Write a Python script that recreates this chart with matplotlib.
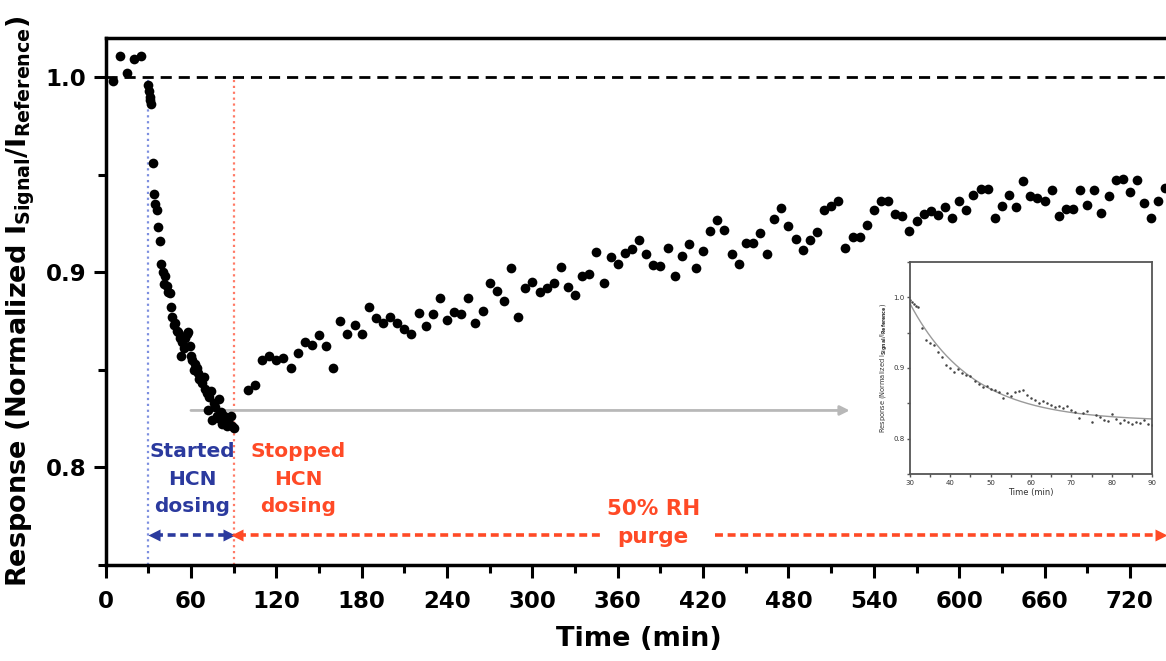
import numpy as np
import matplotlib
matplotlib.use("Agg")
import matplotlib.pyplot as plt
from matplotlib.ticker import MultipleLocator, FormatStrFormatter

plt.rcParams["font.family"] = ["DejaVu Sans"]
plt.rcParams["mathtext.fontset"] = "dejavusans"
plt.rcParams["mathtext.default"] = "bf"

# Baseline before HCN exposure (min, normalized response)
baseline_t = [5, 10, 15, 20, 25]
baseline_v = [0.998, 1.011, 1.002, 1.009, 1.011]

# HCN dosing period (30-90 min)
dosing_t = [30, 30.5, 31, 31.5, 32, 33, 34, 35, 36, 37, 38, 39, 40, 41, 42, 43, 44,
            45, 46, 47, 48, 49, 50, 51, 52, 53, 54, 55, 56, 57, 58, 59, 60, 61, 62,
            63, 64, 65, 66, 67, 68, 69, 70, 71, 72, 73, 74, 75, 76, 77, 78, 79, 80,
            81, 82, 83, 84, 85, 86, 87, 88, 89, 90]
dosing_v = [0.996, 0.993, 0.990, 0.988, 0.986, 0.956, 0.940, 0.935, 0.932, 0.923,
            0.916, 0.904, 0.900, 0.894, 0.898, 0.893, 0.890, 0.889, 0.882, 0.877,
            0.873, 0.874, 0.870, 0.869, 0.866, 0.857, 0.864, 0.861, 0.866, 0.868,
            0.869, 0.862, 0.857, 0.855, 0.850, 0.853, 0.851, 0.848, 0.845, 0.846,
            0.843, 0.846, 0.840, 0.838, 0.829, 0.836, 0.839, 0.824, 0.833, 0.831,
            0.826, 0.825, 0.835, 0.828, 0.822, 0.826, 0.824, 0.821, 0.823, 0.822,
            0.826, 0.821, 0.820]

# 50% RH purge (recovery)
purge_t = list(range(100, 750, 5))
purge_v = [0.8395, 0.842, 0.855, 0.857, 0.855, 0.8557, 0.8506, 0.8586, 0.8643, 0.8626,
           0.8677, 0.862, 0.8506, 0.8749, 0.868, 0.8728, 0.868, 0.8822, 0.8763, 0.874,
           0.877, 0.8737, 0.871, 0.868, 0.8791, 0.8725, 0.8783, 0.8865, 0.8754, 0.8796,
           0.8785, 0.8865, 0.874, 0.8802, 0.8942, 0.8903, 0.8851, 0.9019, 0.8771, 0.8916,
           0.895, 0.8899, 0.8916, 0.8945, 0.9024, 0.8925, 0.8882, 0.898, 0.8988, 0.9104,
           0.8945, 0.9078, 0.904, 0.9097, 0.9119, 0.9162, 0.9091, 0.9036, 0.9032, 0.9125,
           0.8982, 0.9082, 0.9144, 0.902, 0.9106, 0.9212, 0.9267, 0.9217, 0.9091, 0.904,
           0.9149, 0.9149, 0.9199, 0.9091, 0.9273, 0.9328, 0.9236, 0.9171, 0.9115, 0.9162,
           0.9205, 0.9319, 0.9337, 0.9366, 0.9125, 0.918, 0.918, 0.924, 0.9319, 0.9366,
           0.9366, 0.9297, 0.9288, 0.9212, 0.9264, 0.9297, 0.9314, 0.9291, 0.9334, 0.9277,
           0.9366, 0.9316, 0.9397, 0.9427, 0.9427, 0.9277, 0.9337, 0.9397, 0.9334, 0.9467,
           0.939, 0.9378, 0.9366, 0.9421, 0.9286, 0.9323, 0.9323, 0.9421, 0.9342, 0.9421,
           0.9305, 0.939, 0.947, 0.9476, 0.9408, 0.947, 0.9352, 0.9278, 0.9366, 0.943]

dose_start, dose_stop = 30, 90
x_ticks = list(range(0, 721, 60))
y_ticks = [0.8, 0.9, 1.0]

BLUE = "#2b3a9e"
RED = "#ff4a26"

W, H = 1166, 661
fig = plt.figure(figsize=(W / 100, H / 100), dpi=100)
ax = fig.add_axes([105.6 / W, 1 - 564.5 / H, (1172.6 - 105.6) / W, (564.5 - 38) / H])
ax.set_xlim(0, 750)
ax.set_ylim(0.75, 1.02)

for s in ["left", "bottom", "top"]:
    ax.spines[s].set_linewidth(2.5)
ax.spines["right"].set_visible(False)

ax.set_xticks(x_ticks)
ax.xaxis.set_minor_locator(MultipleLocator(30))
ax.set_yticks(y_ticks)
ax.yaxis.set_minor_locator(MultipleLocator(0.05))
ax.yaxis.set_major_formatter(FormatStrFormatter("%.1f"))
ax.tick_params(which="major", length=9, width=2.2, labelsize=16.5)
ax.tick_params(axis="x", which="major", pad=9)
ax.tick_params(axis="y", which="major", pad=5)
ax.tick_params(which="minor", length=6, width=2.2)
for lbl in ax.get_xticklabels() + ax.get_yticklabels():
    lbl.set_fontweight("bold")

ax.set_xlabel("Time (min)", fontsize=19.5, fontweight="bold", labelpad=10)
ax.set_ylabel(r"Response (Normalized I$_{Signal}$/I$_{Reference}$)",
              fontsize=19.5, fontweight="bold", labelpad=6)

# reference level and dosing markers
ax.axhline(1.0, color="black", lw=2, ls=(0, (4, 2.5)), zorder=1)
ax.plot([dose_start, dose_start], [0.75, 1.0], color="#7d8fe0", ls=":", lw=1.6, zorder=1)
ax.plot([dose_stop, dose_stop], [0.75, 1.0], color="#ff7a66", ls=":", lw=1.6, zorder=1)

# measurements
all_t = baseline_t + dosing_t + purge_t
all_v = baseline_v + dosing_v + purge_v
ax.plot(all_t, all_v, "o", color="black", ms=7, mec="none", zorder=3, clip_on=False)

# pointer to the zoomed view
ax.annotate("", xy=(523, 0.829), xytext=(60, 0.829),
            arrowprops=dict(arrowstyle="-|>", color="#b8b8b8", lw=2, mutation_scale=14,
                            shrinkA=0, shrinkB=0), zorder=2)

# phase labels
ax.text(61, 0.7938, "Started\nHCN\ndosing", ha="center", va="center", color=BLUE,
        fontsize=14.5, fontweight="bold", linespacing=1.55)
ax.text(135.5, 0.7938, "Stopped\nHCN\ndosing", ha="center", va="center", color=RED,
        fontsize=14.5, fontweight="bold", linespacing=1.55)
ax.text(385, 0.7713, "50% RH\npurge", ha="center", va="center", color=RED,
        fontsize=15.5, fontweight="bold", linespacing=1.45)

y_arrow = 0.765
dash = (2.2, 1.3)
ax.plot([35, 85.5], [y_arrow, y_arrow], color=BLUE, lw=2.6, ls=(0, dash))
ax.plot([33.8], [y_arrow], marker="<", color=BLUE, ms=8, mec="none")
ax.plot([86.8], [y_arrow], marker=">", color=BLUE, ms=8, mec="none")
ax.plot([93, 350], [y_arrow, y_arrow], color=RED, lw=2.6, ls=(0, dash))
ax.plot([92.3], [y_arrow], marker="<", color=RED, ms=8, mec="none")
ax.plot([428, 740], [y_arrow, y_arrow], color=RED, lw=2.6, ls=(0, dash))
ax.plot([741.5], [y_arrow], marker=">", color=RED, ms=8, mec="none")

# zoomed view of the dosing period with exponential fit
t_arr = np.array(dosing_t, dtype=float)
v_arr = np.array(dosing_v, dtype=float)
best = None
for k in np.linspace(0.01, 0.2, 400):
    basis = np.column_stack([np.ones_like(t_arr), np.exp(-k * (t_arr - dose_start))])
    coef, *_ = np.linalg.lstsq(basis, v_arr, rcond=None)
    res = np.sum((basis @ coef - v_arr) ** 2)
    if best is None or res < best[0]:
        best = (res, k, coef)
_, k_fit, (plateau, span) = best
t_fit = np.linspace(dose_start, dose_stop, 200)
v_fit = plateau + span * np.exp(-k_fit * (t_fit - dose_start))

axin = fig.add_axes([910 / W, 1 - 474 / H, 242 / W, 212 / H])
axin.set_xlim(30, 90)
axin.set_ylim(0.75, 1.05)
axin.plot(t_fit, v_fit, color="#9a9a9a", lw=1.0)
axin.plot(dosing_t, dosing_v, "o", color="#444444", ms=1.8, mec="none")
for s in axin.spines.values():
    s.set_linewidth(1.3)
    s.set_color("#555555")
axin.set_xticks(range(30, 91, 10))
axin.xaxis.set_minor_locator(MultipleLocator(5))
axin.set_yticks([0.8, 0.9, 1.0])
axin.yaxis.set_minor_locator(MultipleLocator(0.05))
axin.yaxis.set_major_formatter(FormatStrFormatter("%.1f"))
axin.tick_params(which="both", length=2.5, width=1, colors="#555555", labelsize=5, pad=1.5)
axin.tick_params(labelcolor="#333333")
axin.set_xlabel("Time (min)", fontsize=6, color="#333333", labelpad=2)
axin.set_ylabel(r"Response (Normalized I$_{Signal}$/I$_{Reference}$)", fontsize=4.8,
                color="#333333", labelpad=2)

fig.savefig("out.png", dpi=100)
